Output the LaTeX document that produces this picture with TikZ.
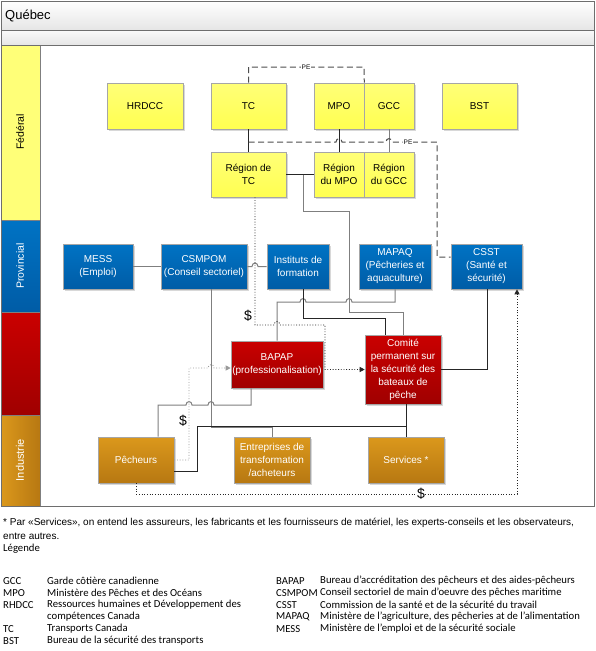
\documentclass[tikz,border=0pt]{standalone}
\usepackage{fontspec}
\setmainfont{Liberation Sans}
\newfontfamily\legfont{Carlito}
\usetikzlibrary{arrows.meta,shadows}
\definecolor{yel1}{HTML}{FFFF78}
\definecolor{yel2}{HTML}{FFFF50}
\definecolor{blu1}{HTML}{0073C4}
\definecolor{blu2}{HTML}{005CA6}
\definecolor{red1}{HTML}{CA0000}
\definecolor{red2}{HTML}{A00000}
\definecolor{ora1}{HTML}{DB981C}
\definecolor{ora2}{HTML}{B77812}
\definecolor{bordc}{HTML}{A6A6A6}
\definecolor{lgray}{HTML}{7F7F7F}
\definecolor{dkgray}{HTML}{262626}
\definecolor{dashc}{HTML}{4D4D4D}
\definecolor{framec}{HTML}{6E6E6E}
\begin{document}
\begin{tikzpicture}[x=1pt,y=-1pt,
  bx/.style={draw=bordc, line width=0.6pt, align=center, inner sep=1pt,
    font=\fontsize{10}{13}\selectfont,
    drop shadow={shadow xshift=1.5pt,shadow yshift=-1.5pt,opacity=0.3}},
  ybox/.style={bx, top color=yel1, bottom color=yel2, text=black},
  bbox/.style={bx, top color=blu1, bottom color=blu2, text=white},
  rbox/.style={bx, top color=red1, bottom color=red2, text=white},
  obox/.style={bx, top color=ora1, bottom color=ora2, text=white},
  gline/.style={draw=lgray, line width=1pt},
  dline/.style={draw=dkgray, line width=1pt},
  dashl/.style={draw=dashc, line width=1pt, dash pattern=on 6pt off 3.5pt},
  dotl/.style={draw=dkgray, line width=0.9pt, dash pattern=on 0.9pt off 1.8pt},
  gdot/.style={draw=lgray!80, line width=0.9pt, dash pattern=on 0.9pt off 1.8pt},
  tip/.style={-{Triangle[length=5pt,width=5pt]}},
  pel/.style={fill=white, inner sep=0.8pt, font=\fontsize{6.5}{6.5}\selectfont},
  dollar/.style={inner sep=0.5pt, font=\fontsize{14}{14}\selectfont},
  lanelab/.style={rotate=90, font=\fontsize{10.5}{12}\selectfont},
  foot/.style={anchor=west, inner sep=0pt, font=\fontsize{10}{12}\selectfont},
  leg/.style={anchor=west, inner sep=0pt, font=\legfont\fontsize{10.7}{12}\selectfont}
]
\useasboundingbox (0,0) rectangle (595,651);
% frame and lanes
\fill[white] (1,1) rectangle (594,506);
\shade[top color=white, bottom color=black!10] (1,1) rectangle (594,30);
\shade[top color=black!2, bottom color=black!10] (1,30) rectangle (594,45);
\fill[yel1] (1,45) rectangle (40,220);
\shade[top color=blu1, bottom color=blu2] (1,220) rectangle (40,312);
\shade[top color=red1, bottom color=red2] (1,312) rectangle (40,415);
\shade[left color=ora1, right color=ora2] (1,415) rectangle (40,506);
\draw[lgray, line width=0.8pt] (1,220) -- (40,220) (1,312) -- (40,312) (1,415) -- (40,415) (40,45) -- (40,506);
\draw[framec, line width=0.8pt] (1,30) -- (594,30) (1,45) -- (594,45);
\draw[framec, line width=1pt] (1,1) rectangle (594,506);
\node[anchor=west, inner sep=0pt, font=\fontsize{13}{15}\selectfont] (title) at (5,16) {Québec};
\node[lanelab, text=black] (lfed) at (20,132) {Fédéral};
\node[lanelab, text=white] (lprov) at (20,266) {Provincial};
\node[lanelab, text=white, font=\fontsize{11}{12}\selectfont] (lind) at (20,460) {Industrie};
% federal nodes
\node[ybox, minimum width=76pt, minimum height=46pt] (hrdcc) at (145,106) {HRDCC};
\node[ybox, minimum width=75pt, minimum height=46pt] (tc) at (248.5,106) {TC};
\node[ybox, minimum width=50pt, minimum height=46pt] (mpo) at (339,106) {MPO};
\node[ybox, minimum width=50pt, minimum height=46pt] (gcc) at (389,106) {GCC};
\node[ybox, minimum width=75pt, minimum height=46pt] (bst) at (479.5,106) {BST};
\node[ybox, minimum width=75pt, minimum height=45pt] (rtc) at (248.5,174.5) {Région de\\TC};
\node[ybox, minimum width=50pt, minimum height=45pt] (rmpo) at (339,174.5) {Région\\du MPO};
\node[ybox, minimum width=50pt, minimum height=45pt] (rgcc) at (389,174.5) {Région\\du GCC};
% provincial nodes
\node[bbox, minimum width=70pt, minimum height=45pt] (mess) at (98,266.5) {MESS\\(Emploi)};
\node[bbox, minimum width=86pt, minimum height=45pt] (csmpom) at (204,266.5) {CSMPOM\\(Conseil sectoriel)};
\node[bbox, minimum width=62pt, minimum height=45pt] (inst) at (298,266.5) {Instituts de\\formation};
\node[bbox, minimum width=72pt, minimum height=45pt] (mapaq) at (395,266.5) {MAPAQ\\(Pêcheries et\\aquaculture)};
\node[bbox, minimum width=71pt, minimum height=45pt] (csst) at (486.5,266.5) {CSST\\(Santé et\\sécurité)};
% red nodes
\node[rbox, minimum width=92pt, minimum height=47pt] (bapap) at (277,364.5) {BAPAP\\(professionalisation)};
\node[rbox, minimum width=76pt, minimum height=69pt] (comite) at (403,369.5) {Comité\\permanent sur\\la sécurité des\\bateaux de\\pêche};
% industry nodes
\node[obox, minimum width=76pt, minimum height=46pt] (pech) at (136,460) {Pêcheurs};
\node[obox, minimum width=76pt, minimum height=46pt] (entr) at (272,460) {Entreprises de\\transformation\\/acheteurs};
\node[obox, minimum width=76pt, minimum height=46pt] (serv) at (406,460) {Services *};
% solid connectors
\draw[dline] (tc.south) -- (rtc.north);
\draw[dline] (mpo.south) -- (rmpo.north);
\draw[gline] (gcc.south) -- (rgcc.north);
\draw[dline] (rtc.east) -- (rmpo.west);
\draw[gline] (303,174.5) -- (303,211) -- (349,211) -- (349,312) -- (403,312) -- (comite.north);
\draw[gline] (mess.east) -- (csmpom.west);
\draw[gline] (csmpom.east) -- (252,266.5) .. controls (252,262) and (258,262) .. (258,266.5) -- (inst.west);
\draw[gline] (mapaq.south) -- (395,302) -- (352,302) .. controls (352,297.5) and (346,297.5) .. (346,302) -- (306,302) .. controls (306,297.5) and (300,297.5) .. (300,302) -- (277,302) -- (bapap.north);
\draw[dline] ([xshift=5pt]inst.south) -- (303,318) -- (385,318) -- ([xshift=-18pt]comite.north);
\draw[dline] ([xshift=0.5pt]csst.south) -- (487,369.5) -- (comite.east);
\draw[gline] ([xshift=7pt]csmpom.south) -- (211,427) -- (272,427) -- (entr.north);
\draw[gline] ([xshift=-26pt]bapap.south) -- (251,405) -- (214,405) .. controls (214,400.5) and (208,400.5) .. (208,405) -- (192,405) .. controls (192,400.5) and (186,400.5) .. (186,405) -- (158,405) -- ([xshift=22pt]pech.north);
\draw[dline] ([yshift=-11pt]pech.east) -- (197,471) -- (197,426) -- (406,426) -- (serv.north);
\draw[dline] ([xshift=3pt]comite.south) -- (406,426);
% dashed PE connectors
\draw[dashl] (tc.north) -- (248.5,67) -- (364,67) -- (mpo.north east);
\node[pel] (pe1) at (306,67) {PE};
\coordinate (pe2) at (248.5,142);
\draw[dashl] (pe2) -- (336,142) .. controls (336,137.5) and (342,137.5) .. (342,142) -- (386,142) .. controls (386,137.5) and (392,137.5) .. (392,142) -- (437,142) -- (437,257) -- (csst.west |- 0,257);
\node[pel] (pe3) at (408,142) {PE};
% dotted money flows
\draw[dotl, tip] ([xshift=6.5pt]rtc.south) -- (255,325) -- (274,325) .. controls (274,320.5) and (280,320.5) .. (280,325) -- (325,325) -- (325,369.5) -- (comite.west);
\draw[gdot, tip] (pech.east) -- (189,460) -- (189,368) -- (208,368) .. controls (208,363.5) and (214,363.5) .. (214,368) -- ([yshift=-3.5pt]bapap.west);
\draw[dotl, tip] (pech.south) -- (136,494) -- (517,494) -- ([xshift=30.5pt]csst.south);
\node[dollar] (d1) at (248,316) {\$};
\node[dollar] (d2) at (183,421) {\$};
\node[dollar, fill=white] (d3) at (421,494) {\$};
% footnote and legend
\node[foot] (fn1) at (3,523) {* Par «Services», on entend les assureurs, les fabricants et les fournisseurs de matériel, les experts-conseils et les observateurs,};
\node[foot] (fn2) at (3,536) {entre autres.};
\node[leg] (lg) at (3,549) {Légende};
\node[leg] at (3,581) {GCC};   \node[leg] at (47,581) {Garde côtière canadienne};
\node[leg] at (3,593) {MPO};   \node[leg] at (47,593) {Ministère des Pêches et des Océans};
\node[leg] at (3,605) {RHDCC}; \node[leg] at (47,605) {Ressources humaines et Développement des};
\node[leg] at (47,617) {compétences Canada};
\node[leg] at (3,629) {TC};    \node[leg] at (47,629) {Transports Canada};
\node[leg] at (3,641) {BST};   \node[leg] at (47,641) {Bureau de la sécurité des transports};
\node[leg] at (276,581) {BAPAP};  \node[leg] at (320,581) {Bureau d’accréditation des pêcheurs et des aides-pêcheurs};
\node[leg] at (276,593) {CSMPOM}; \node[leg] at (320,593) {Conseil sectoriel de main d’oeuvre des pêches maritime};
\node[leg] at (276,605) {CSST};   \node[leg] at (320,605) {Commission de la santé et de la sécurité du travail};
\node[leg] at (276,617) {MAPAQ};  \node[leg] at (320,617) {Ministère de l’agriculture, des pêcheries at de l’alimentation};
\node[leg] at (276,629) {MESS};   \node[leg] at (320,629) {Ministère de l’emploi et de la sécurité sociale};
\end{tikzpicture}
\end{document}
